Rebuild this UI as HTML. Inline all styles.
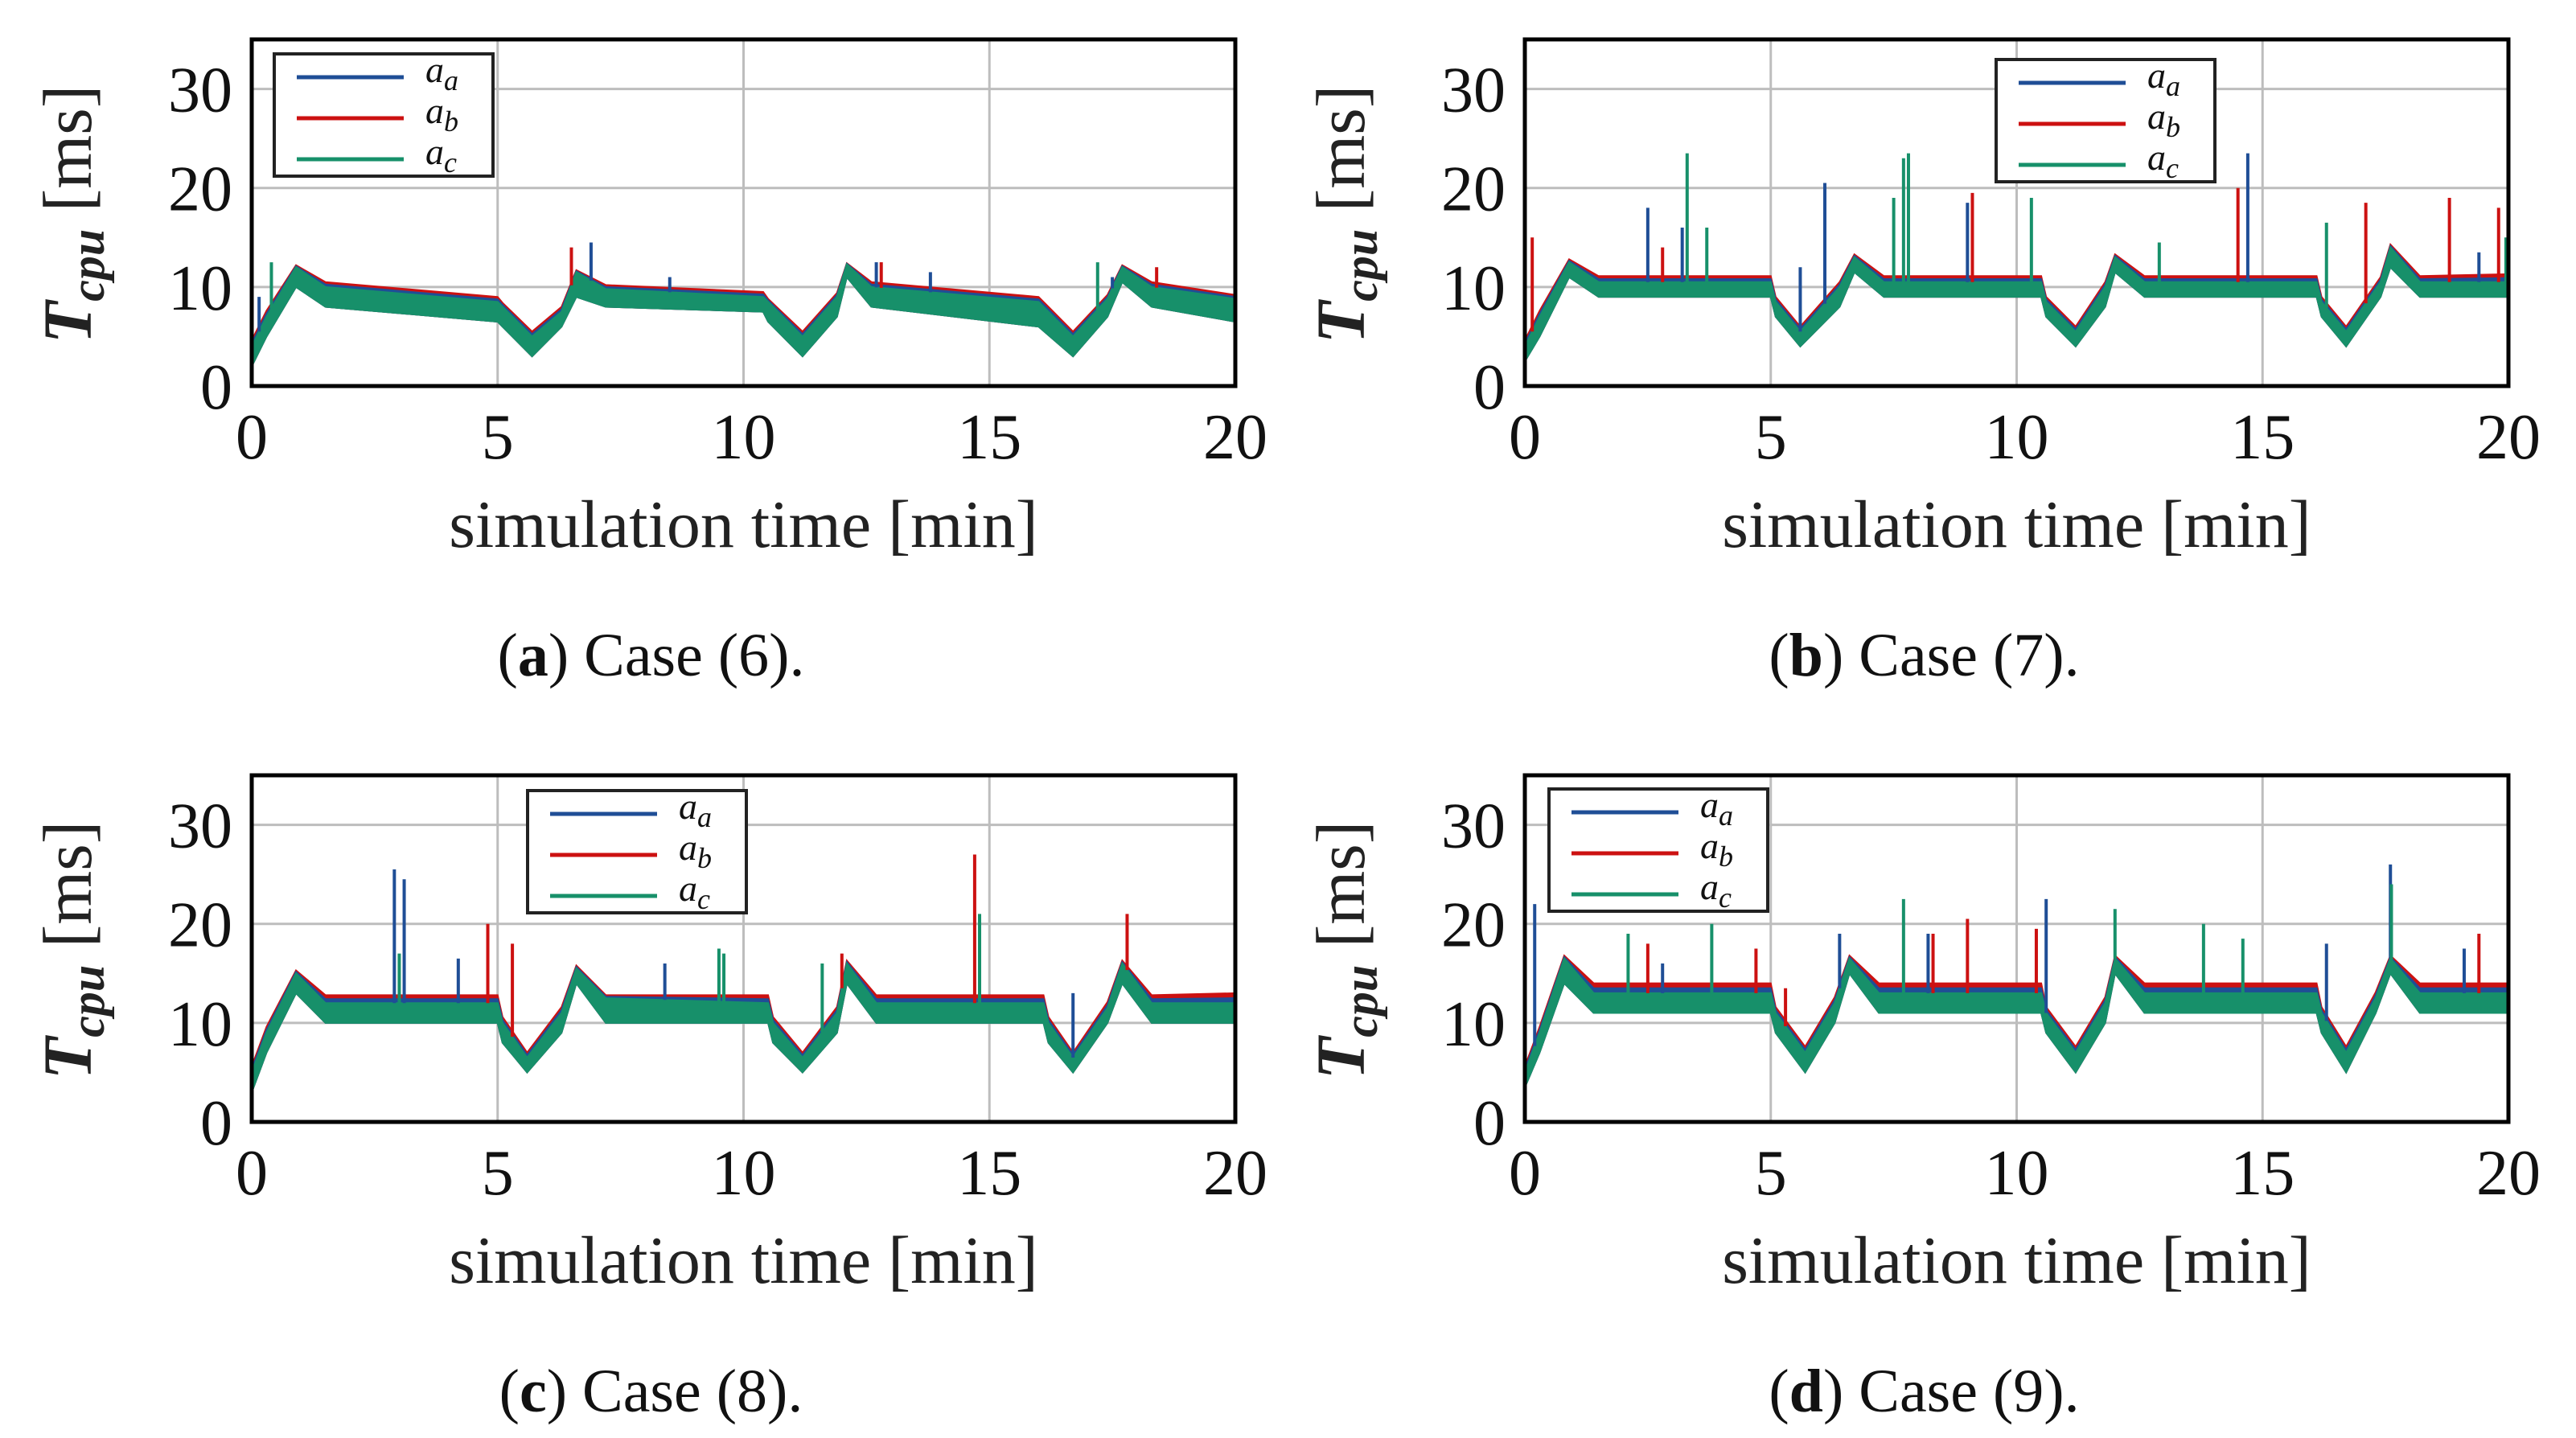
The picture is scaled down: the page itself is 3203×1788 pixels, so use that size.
<!DOCTYPE html>
<html><head><meta charset="utf-8"><style>
html,body{margin:0;padding:0;background:#fff;}
svg{display:block;font-family:"Liberation Serif",serif;}
</style></head><body>
<svg id="fig" width="3203" height="1788" viewBox="0 0 3203 1788" xmlns="http://www.w3.org/2000/svg"></svg>
<script>
// ---- data (time in min, value in ms) ----
const xTicks = [0,5,10,15,20];
const yTicks = [0,10,20,30];
const panelIds = ['a','b','c','d'];
const captions = ['Case (6).','Case (7).','Case (8).','Case (9).'];
// profile knots per panel
const knotsA = [0,0.3,0.9,1.5,5.0,5.1,5.7,6.3,6.6,7.2,10.4,10.5,11.2,11.9,12.1,12.6,16.0,16.7,17.4,17.7,18.3,20];
const greenLoA = [2,5,10,8,6.5,6,3,6,9,8,7.5,6.5,3,7,11,8,6,3,7,10.5,8,6.5];
const greenHiA = [4,7,12,10,8.5,8,5,7.5,11.5,9.8,9,8.5,5,9,12.3,10,8.5,5,8.8,12,10,8.8];
const redHiA   = [4.6,7.6,12.2,10.5,9.0,8.4,5.5,8.0,11.7,10.2,9.5,8.8,5.5,9.4,12.4,10.5,9.0,5.5,9.2,12.2,10.5,9.2];

const knotsB = [0,0.3,0.9,1.5,5.0,5.1,5.6,6.4,6.7,7.3,10.5,10.6,11.2,11.8,12.0,12.6,16.1,16.2,16.7,17.4,17.6,18.2,20];
const greenLoB = [2.5,5,11,9,9,7,4,8,11.5,9,9,7,4,8,11.5,9,9,7,4,9,12,9,9];
const greenHiB = [4,7,12.5,10.5,10.5,8.5,5.5,10,13,10.5,10.5,8.5,5.5,10,13,10.5,10.5,8.5,5.5,10.5,14,10.5,10.5];
const redHiB   = [4.6,7.6,12.8,11.1,11.1,9.0,6.0,10.5,13.3,11.1,11.1,9.0,6.0,10.5,13.3,11.1,11.1,9.0,6.0,11.0,14.3,11.1,11.3];

const knotsC = [0,0.3,0.9,1.5,5.0,5.1,5.6,6.3,6.6,7.2,10.5,10.6,11.2,11.9,12.1,12.7,16.1,16.2,16.7,17.4,17.7,18.3,20];
const greenLoC = [3,7,13,10,10,8,5,9,14,10,10,8,5,9,14,10,10,8,5,10,14,10,10];
const greenHiC = [5,9,15,12,12,10,6.5,11,15.5,12.5,12,10,6.5,11,16,12,12,10,6.5,11.5,16,12,12];
const redHiC   = [5.6,9.6,15.3,12.8,12.8,10.6,7.0,11.6,15.8,12.8,12.8,10.6,7.0,11.6,16.3,12.8,12.8,10.6,7.0,12.1,16.3,12.8,13.0];

const knotsD = [0,0.3,0.8,1.4,5.0,5.1,5.7,6.3,6.6,7.2,10.5,10.6,11.2,11.8,12.0,12.6,16.1,16.2,16.7,17.3,17.6,18.2,20];
const greenLoD = [3.5,7,14,11,11,9,5,10,15,11,11,9,5,10,15,11,11,9,5,11,15,11,11];
const greenHiD = [5,9,16.5,13,13,11,7,12,16.5,13,13,11,7,12,16.5,13,13,11,7,12.5,16.5,13,13];
const redHiD   = [5.6,9.6,16.8,14.0,14.0,11.6,7.6,12.6,16.8,14.0,14.0,11.6,7.6,12.6,16.8,14.0,14.0,11.6,7.6,13.1,16.8,14.0,14.0];

// spikes: times, values, series (0=a_a blue,1=a_b red,2=a_c green)
const spikeTA = [0.15,0.4,6.5,6.9,8.5,12.7,12.8,13.8,17.2,17.5,18.4];
const spikeVA = [9,12.5,14,14.5,11,12.5,12.5,11.5,12.5,11,12];
const spikeSA = [0,2,1,0,0,0,1,0,2,0,1];
const spikeTB = [0.15,2.5,2.8,3.2,3.3,3.7,5.6,6.1,7.5,7.7,7.8,9.0,9.1,10.3,12.9,14.5,14.7,16.3,17.1,18.8,19.4,19.8,19.95];
const spikeVB = [15,18,14,16,23.5,16,12,20.5,19,23,23.5,18.5,19.5,19,14.5,20,23.5,16.5,18.5,19,13.5,18,15];
const spikeSB = [1,0,1,0,2,2,0,0,2,2,2,0,1,2,2,1,0,2,1,1,0,1,2];
const spikeTC = [2.9,3.0,3.1,4.2,4.8,5.3,8.4,9.5,9.6,11.6,12.0,14.7,14.8,16.7,17.8];
const spikeVC = [25.5,17,24.5,16.5,20,18,16,17.5,17,16,17,27,21,13,21];
const spikeSC = [0,2,0,0,1,1,0,2,2,2,1,1,2,0,1];
const spikeTD = [0.2,2.1,2.5,2.8,3.8,4.7,5.3,6.4,7.7,8.2,8.3,9.0,10.4,10.6,12.0,13.8,14.6,16.3,17.6,17.62,19.1,19.4];
const spikeVD = [22,19,18,16,20,17.5,13.5,19,22.5,19,19,20.5,19.5,22.5,21.5,20,18.5,18,26,24,17.5,19];
const spikeSD = [0,2,1,0,2,1,1,0,2,0,1,1,1,0,2,2,2,0,0,2,0,1];

const knots=[knotsA,knotsB,knotsC,knotsD];
const gLo=[greenLoA,greenLoB,greenLoC,greenLoD];
const gHi=[greenHiA,greenHiB,greenHiC,greenHiD];
const rHi=[redHiA,redHiB,redHiC,redHiD];
const spT=[spikeTA,spikeTB,spikeTC,spikeTD];
const spV=[spikeVA,spikeVB,spikeVC,spikeVD];
const spS=[spikeSA,spikeSB,spikeSC,spikeSD];

// ---- layout ----
const COLORS=['#1f4e96','#cc1111','#17906a'];
const boxes=[[313,49],[1896,49],[313,964],[1896,964]];
const W=1223,H=431,XMAX=20,YMAX=35;
const legendPos=[[341,67],[2482,74],[656,983],[1926,981]];
const NS='http://www.w3.org/2000/svg';
const svg=document.getElementById('fig');
function mk(tag,attrs,parent){const e=document.createElementNS(NS,tag);for(const k in attrs)e.setAttribute(k,attrs[k]);(parent||svg).appendChild(e);return e;}
function interp(xs,ys,t){for(let i=1;i<xs.length;i++){if(t<=xs[i]){const f=(t-xs[i-1])/(xs[i]-xs[i-1]);return ys[i-1]+f*(ys[i]-ys[i-1]);}}return ys[ys.length-1];}

for(let p=0;p<4;p++){
  const [x0,y0]=boxes[p];
  const sx=t=>x0+t/XMAX*W, sy=v=>y0+H-v/YMAX*H;
  const g=mk('g',{});
  
  
  xTicks.forEach(t=>{const l=mk('line',{x1:sx(t),x2:sx(t),y1:y0,y2:y0+H,stroke:'#bdbdbd','stroke-width':3},g);
    });
  yTicks.forEach(v=>{const l=mk('line',{x1:x0,x2:x0+W,y1:sy(v),y2:sy(v),stroke:'#bdbdbd','stroke-width':3},g);
    });
  const k=knots[p];
  function band(hi,lo,col,name){
    let d='M'+k.map((t,i)=>sx(t)+','+sy(hi[i])).join(' L');
    for(let i=k.length-1;i>=0;i--)d+=' L'+sx(k[i])+','+sy(lo[i]);
    const e=mk('path',{d:d+'Z',fill:col,stroke:col,'stroke-width':2},g);
    
  }
  const blueHi=rHi[p].map((v,i)=>(v+gHi[p][i])/2);
  band(rHi[p],gLo[p],COLORS[1],'series-a-b-band');
  band(blueHi,gLo[p],COLORS[0],'series-a-a-band');
  band(gHi[p],gLo[p],COLORS[2],'series-a-c-band');
  spT[p].forEach((t,i)=>{
    const base=interp(k,gHi[p],t);
    const l=mk('line',{x1:sx(t),x2:sx(t),y1:sy(base),y2:sy(spV[p][i]),stroke:COLORS[spS[p][i]],'stroke-width':4},g);
    
  });
  const fr=mk('rect',{x:x0,y:y0,width:W,height:H,fill:'none',stroke:'#000','stroke-width':5},g);
  
  xTicks.forEach(t=>{const e=mk('text',{x:sx(t),y:y0+H+90,'font-size':80,'text-anchor':'middle',fill:'#111'},g);e.textContent=t;
    });
  yTicks.forEach(v=>{const e=mk('text',{x:x0-24,y:sy(v)+28,'font-size':80,'text-anchor':'end',fill:'#111'},g);e.textContent=v;
    });
  const xt=mk('text',{x:x0+W/2,y:y0+H+200,'font-size':84,'text-anchor':'middle',fill:'#222'},g);
  xt.textContent='simulation time [min]';
  
  const yt=mk('text',{x:0,y:0,'font-size':86,'text-anchor':'middle',fill:'#222',transform:`translate(${x0-200},${y0+H/2+2}) rotate(-90)`},g);
  yt.innerHTML='<tspan font-style="italic" font-weight="bold">T</tspan><tspan font-style="italic" font-weight="bold" font-size="60" dy="16">cpu</tspan><tspan dy="-16"> [ms]</tspan>';
  
  const cp=mk('text',{x:x0+W/2-115,y:y0+H+360,'font-size':76,'text-anchor':'middle',fill:'#111'},g);
  cp.innerHTML='(<tspan font-weight="bold">'+panelIds[p]+'</tspan>) '+captions[p];
  
  const [lx,ly]=legendPos[p];
  const lg=mk('g',{},g);
  
  mk('rect',{x:lx,y:ly,width:272,height:152,fill:'#fff',stroke:'#222','stroke-width':4},lg);
  const subs=['a','b','c'];
  for(let s=0;s<3;s++){
    const yy=ly+29+s*51;
    const ln=mk('line',{x1:lx+28,x2:lx+161,y1:yy,y2:yy,stroke:COLORS[s],'stroke-width':5},lg);
    
    const tx=mk('text',{x:lx+188,y:yy+6,'font-size':46,'font-style':'italic',fill:'#111'},lg);
    tx.innerHTML='a<tspan font-size="36" dy="10">'+subs[s]+'</tspan>';
    
  }
}
</script>
</body></html>
